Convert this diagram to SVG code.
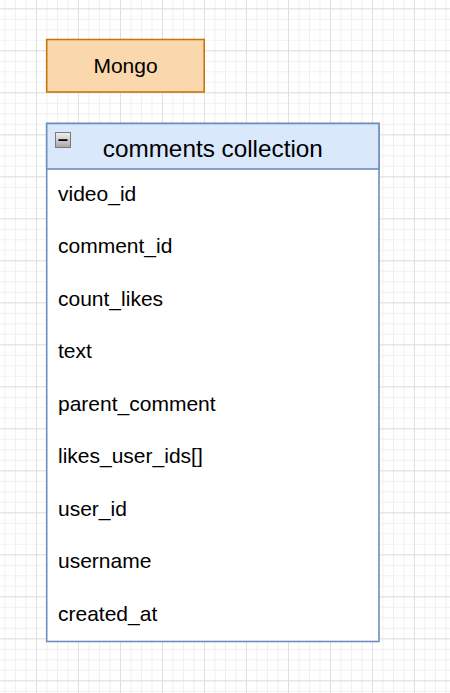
<svg xmlns="http://www.w3.org/2000/svg" width="450" height="693" viewBox="0 0 450 693">
  <defs>
    <pattern id="minor" patternUnits="userSpaceOnUse" x="4.5" y="8.3" width="10.5" height="10.5">
      <path d="M0 0.5H10.5M0.5 0V10.5" fill="none" stroke="#f0f0f0" stroke-width="1"/>
    </pattern>
    <pattern id="major" patternUnits="userSpaceOnUse" x="36" y="8.3" width="42" height="42">
      <path d="M0 0.5H42M0.5 0V42" fill="none" stroke="#e0e0e0" stroke-width="1"/>
    </pattern>
    <linearGradient id="btn" x1="0" y1="0" x2="0" y2="1">
      <stop offset="0" stop-color="#f2f2f2"/>
      <stop offset="1" stop-color="#a6a6a6"/>
    </linearGradient>
  </defs>
  <style>
    .lbl { font-family: "Liberation Sans", Arial, sans-serif; fill: #000000; }
    .row { font-size: 21px; }
    .title { font-size: 24.3px; }
  </style>
  <rect width="450" height="693" fill="#ffffff"/>
  <rect width="450" height="693" fill="url(#minor)"/>
  <rect width="450" height="693" fill="url(#major)"/>

  <g id="connectors"></g>

  <g id="mongo">
    <rect x="46.7" y="39.5" width="157.5" height="52.5" fill="#fad7ac" stroke="#c5770a" stroke-width="1.6"/>
    <text class="lbl" x="125.5" y="73" font-size="21" text-anchor="middle">Mongo</text>
  </g>

  <g id="comments-collection">
    <rect x="46.7" y="123.5" width="332.3" height="518" fill="#ffffff" stroke="#6c8ebf" stroke-width="1.6"/>
    <rect x="46.7" y="123.5" width="332.3" height="45.5" fill="#dae8fc" stroke="#6c8ebf" stroke-width="1.6"/>
    <rect x="55.5" y="132.5" width="15" height="15" fill="url(#btn)" stroke="#7a7a7a" stroke-width="1"/>
    <rect x="58.5" y="139.2" width="9" height="1.8" fill="#000000"/>
    <text class="lbl title" x="212.8" y="157" text-anchor="middle">comments collection</text>
    <text class="lbl row" x="58" y="200.5">video_id</text>
    <text class="lbl row" x="58" y="253">comment_id</text>
    <text class="lbl row" x="58" y="305.5">count_likes</text>
    <text class="lbl row" x="58" y="358">text</text>
    <text class="lbl row" x="58" y="410.5">parent_comment</text>
    <text class="lbl row" x="58" y="463">likes_user_ids[]</text>
    <text class="lbl row" x="58" y="515.5">user_id</text>
    <text class="lbl row" x="58" y="568">username</text>
    <text class="lbl row" x="58" y="620.5">created_at</text>
  </g>
</svg>
